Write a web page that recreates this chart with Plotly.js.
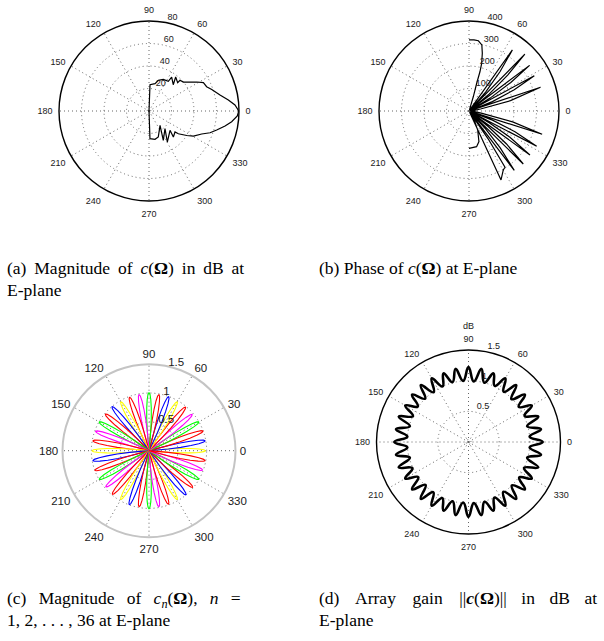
<!DOCTYPE html>
<html>
<head>
<meta charset="utf-8">
<script src="https://cdn.plot.ly/plotly-3.0.1.min.js"></script>
<style>
  html, body { margin: 0; padding: 0; background: #fff; }
  #chart { width: 604px; height: 641px; }
</style>
</head>
<body>
<div id="chart"></div>
<script>
// ---- angular ticks shared by all four polar panels ----
const angleTicks  = [0, 30, 60, 90, 120, 150, 180, 210, 240, 270, 300, 330];
const angleLabels = ['0', '30', '60', '90', '120', '150', '180', '210', '240', '270', '300', '330'];

// ---- (a) magnitude of c(Omega) in dB, E-plane ----
const magTheta = [90, 87.8, 77.6, 73, 65.7, 57, 56.3, 47.3, 51.9, 44.6, 44.7, 40.2, 36.4, 31.3, 27.5,
                  22.9, 19, 12.7, 7.9, 4, 0, -3.2, -7.4, -11.2, -15.7, -19.6, -23.6, -29.4, -33,
                  -37.8, -38.9, -46.9, -42.6, -59.4, -47.9, -64, -52.4, -70.3, -78, -88, -90];
const magR     = [0, 23.4, 24.9, 28.5, 30.9, 31.5, 36.3, 31.8, 38.4, 35.8, 38.8, 39.9, 43.4, 49.6, 54.5,
                  55.6, 59, 64.7, 71.2, 76.6, 79.8, 78.6, 74.1, 68.9, 62.5, 57.6, 51.1, 45.3, 40,
                  33, 29.7, 31.7, 25.4, 32, 21.2, 29, 16.1, 24.5, 25.7, 24.6, 0];
const magRings  = [1.6, 20, 40, 60, 80];
const magTicks  = [20, 40, 60, 80];

// ---- (b) phase of c(Omega), E-plane (degrees, wrapped) ----
const phaseTheta = [-90, -78, -72, -65.5, -59.4, -62,
                    -65.1, -59.8, -57.4, -55.5, -53.2,
                    -52.7, -49.8, -47.3, -44.6,
                    -44.3, -41.3, -38.8, -36.0,
                    -35.8, -32.7, -30.2, -27.7,
                    -27.5, -24.2, -21.2, -17.8,
                    -17.6, -14, -10, -5, 0, 5, 10, 14,
                    18.4, 18.6, 21.8, 25.1, 28.4, 28.6, 31.4, 34.3, 37, 37.2, 40, 42.9, 45.5,
                    45.7, 48.7, 51.7, 54.6, 54.8, 63, 71, 73.2, 74.5, 74.4, 75.1, 77, 79, 82.4, 86, 90];
const phaseR     = [166, 162, 143, 93, 46, 6,
                    338, 303, 297, 150, 5,
                    332, 215, 110, 5,
                    337, 222, 108, 5,
                    334, 216, 104, 5,
                    339, 224, 112, 5,
                    341, 200, 55, 20, 4, 20, 52, 190,
                    335, 5, 112, 222, 330, 5, 110, 225, 337, 5, 118, 236, 354,
                    5, 112, 222, 333, 5, 6, 12, 66, 128, 181, 219, 263, 299, 315, 317, 316];
const phaseRings = [7, 100, 200, 300, 400];
const phaseTicks = [100, 200, 300, 400];

// ---- (c) magnitude of c_n(Omega), n = 1..36 ----
const lobeDir  = [0, 10, 20, 30, 40, 50, 60, 70, 80, 90, 100, 110, 120, 130, 140, 150, 160, 170,
                  180, 190, 200, 210, 220, 230, 240, 250, 260, 270, 280, 290, 300, 310, 320, 330, 340, 350];
const lobePeak = [0.98, 0.99, 1.00, 1.00, 0.98, 0.99, 0.98, 1.00, 0.99, 1.01, 0.99, 0.99, 0.98, 1.00, 0.99, 1.00, 0.99, 0.99,
                  0.99, 0.99, 1.00, 1.00, 0.98, 0.99, 0.98, 1.00, 0.99, 1.01, 0.99, 0.99, 0.98, 1.00, 0.99, 1.00, 0.99, 0.99];
// beam profile: gain relative to peak versus angle off the beam direction (deg)
const petalOffset = [-6.4, -6, -5, -4, -3, -2, -1, 0, 1, 2, 3, 4, 5, 6, 6.4];
const petalGain   = [0, 0.10, 0.34, 0.56, 0.74, 0.88, 0.97, 1, 0.97, 0.88, 0.74, 0.56, 0.34, 0.10, 0];
const lobeColors  = ['#ffff00', '#0000ff', '#ff0000', '#00ff00', '#ff00ff', '#ff0000'];
const elemRings = [0.5, 1, 1.5];
const elemTicks = [0.5, 1, 1.5];

// ---- (d) array gain ||c(Omega)|| in dB ----
const gainTheta = [0, 5, 10, 15, 20, 25, 30, 35, 40, 45, 50, 55, 60, 65, 70, 75, 80, 85,
                   90, 95, 100, 105, 110, 115, 120, 125, 130, 135, 140, 145, 150, 155, 160, 165, 170, 175,
                   180, 185, 190, 195, 200, 205, 210, 215, 220, 225, 230, 235, 240, 245, 250, 255, 260, 265,
                   270, 275, 280, 285, 290, 295, 300, 305, 310, 315, 320, 325, 330, 335, 340, 345, 350, 355, 360];
const gainR     = [1.21, 1.00, 1.20, 0.99, 1.21, 1.01, 1.19, 1.00, 1.20, 0.99, 1.21, 1.00, 1.20, 1.01, 1.19, 1.00, 1.21, 0.99,
                   1.22, 1.00, 1.21, 1.01, 1.19, 1.00, 1.20, 0.99, 1.21, 1.00, 1.20, 1.01, 1.19, 1.00, 1.21, 0.99, 1.20, 1.00,
                   1.21, 1.00, 1.20, 0.99, 1.21, 1.01, 1.19, 1.00, 1.20, 0.99, 1.21, 1.00, 1.20, 1.01, 1.19, 1.00, 1.21, 0.99,
                   1.22, 1.00, 1.21, 1.01, 1.19, 1.00, 1.20, 0.99, 1.21, 1.00, 1.20, 1.01, 1.19, 1.00, 1.21, 0.99, 1.20, 1.00, 1.21];
const gainRings = [0.04, 0.5, 1, 1.5];
const gainTicks = [0.5, 1, 1.5];

// ---- page geometry (pixels) ----
const W = 604, H = 641;
function domainFor(cx, cy, R) {
  return { x: [(cx - R) / W, (cx + R) / W], y: [(H - cy - R) / H, (H - cy + R) / H] };
}

const sansFont = 'Liberation Sans, Arial, Helvetica, sans-serif';
const serifFont = 'Liberation Serif, Times New Roman, serif';
const RADIAL_ANGLE = 80;
const GRID = '#666666';

// polar frame: rim, spokes, dotted rings and angle labels
function polarFrame(cx, cy, R, rmax, rings, opt) {
  return {
    domain: domainFor(cx, cy, R),
    bgcolor: '#ffffff',
    angularaxis: {
      tickmode: 'array', tickvals: angleTicks, ticktext: angleLabels,
      direction: 'counterclockwise', rotation: 0,
      showline: true, linecolor: opt.rim, linewidth: opt.rimWidth,
      showgrid: true, gridcolor: GRID, griddash: '1px,3px', gridwidth: 1,
      ticks: 'outside', ticklen: opt.labelGap, tickcolor: 'rgba(0,0,0,0)',
      tickfont: { family: sansFont, size: opt.fontSize, color: '#1a1a1a' }
    },
    radialaxis: {
      range: [0, rmax], tickmode: 'array', tickvals: rings,
      angle: RADIAL_ANGLE, showline: false, ticks: '', showticklabels: false,
      showgrid: true, gridcolor: GRID, griddash: '1px,3px', gridwidth: 1
    }
  };
}
// radial value labels, drawn by a transparent companion polar nudged up-right
function polarLabels(cx, cy, R, rmax, ticks, opt) {
  return {
    domain: domainFor(cx + opt.dx, cy - opt.dy, R),
    bgcolor: 'rgba(0,0,0,0)',
    angularaxis: { visible: false, rotation: 0, direction: 'counterclockwise' },
    radialaxis: {
      range: [0, rmax], tickmode: 'array', tickvals: ticks,
      angle: RADIAL_ANGLE, tickangle: RADIAL_ANGLE, showline: false, ticks: '',
      showgrid: false,
      tickfont: { family: sansFont, size: opt.fontSize, color: '#1a1a1a' }
    }
  };
}

const traces = [];
traces.push({
  type: 'scatterpolar', subplot: 'polar', mode: 'lines',
  theta: magTheta, r: magR,
  line: { color: '#000', width: 1.2 }, hoverinfo: 'skip'
});
traces.push({
  type: 'scatterpolar', subplot: 'polar2', mode: 'lines',
  theta: phaseTheta, r: phaseR,
  line: { color: '#000', width: 1.2 }, hoverinfo: 'skip'
});
for (let n = 0; n < lobeDir.length; n++) {
  traces.push({
    type: 'scatterpolar', subplot: 'polar3', mode: 'lines',
    theta: petalOffset.map(o => lobeDir[n] + o),
    r: petalGain.map(g => g * lobePeak[n]),
    line: { color: lobeColors[n % lobeColors.length], width: 1.1 }, hoverinfo: 'skip'
  });
}
traces.push({
  type: 'scatterpolar', subplot: 'polar4', mode: 'lines',
  theta: gainTheta, r: gainR,
  line: { color: '#000', width: 2.6, shape: 'spline', smoothing: 1.3 }, hoverinfo: 'skip'
});
// empty traces so the label-only polars are created
['polar5', 'polar6', 'polar7', 'polar8'].forEach(id => {
  traces.push({ type: 'scatterpolar', subplot: id, mode: 'lines', r: [], theta: [], hoverinfo: 'skip' });
});

function caption(text, xpx, ytop) {
  return {
    xref: 'paper', yref: 'paper', x: xpx / W, y: 1 - ytop / H,
    xanchor: 'left', yanchor: 'top', showarrow: false, align: 'left',
    text: text, font: { family: serifFont, size: 17.5, color: '#000' }
  };
}
const SP = '\u00a0';   // word gaps for the justified caption lines
const TH = '\u2009';
const HS = '\u200a';

const small = { rim: '#000', rimWidth: 1.4, fontSize: 9, labelGap: 4 };
const large = { rim: '#c4c4c4', rimWidth: 2, fontSize: 11.5, labelGap: 1 };
const nudge = { fontSize: 9, dx: -2, dy: 8 };
const nudgeC = { fontSize: 11.5, dx: -2, dy: 6 };

const layout = {
  width: W, height: H, autosize: false,
  margin: { l: 0, r: 0, t: 0, b: 0, pad: 0 },
  paper_bgcolor: '#ffffff', showlegend: false,
  polar:  polarFrame(149, 111, 90, 80, magRings, small),
  polar2: polarFrame(469, 111, 90, 400, phaseRings, small),
  polar3: polarFrame(149, 450.7, 86.5, 1.5, elemRings, large),
  polar4: polarFrame(468.5, 442, 92, 1.5, gainRings, small),
  polar5: polarLabels(149, 111, 90, 80, magTicks, nudge),
  polar6: polarLabels(469, 111, 90, 400, phaseTicks, nudge),
  polar7: polarLabels(149, 450.7, 86.5, 1.5, elemTicks, nudgeC),
  polar8: polarLabels(468.5, 442, 92, 1.5, gainTicks, nudge),
  annotations: [
    { xref: 'paper', yref: 'paper', x: 468.5 / W, y: 1 - 326 / H, xanchor: 'center', yanchor: 'middle',
      showarrow: false, text: 'dB', font: { family: sansFont, size: 9, color: '#1a1a1a' } },
    caption('(a)' + TH + ' Magnitude' + TH + ' of' + TH + ' <i>c</i>(<b>Ω</b>)' + TH + ' in' + TH + ' dB' + TH + ' at', 5, 256),
    caption('E-plane', 5, 278),
    caption('(b) Phase of <i>c</i>(<b>Ω</b>) at E-plane', 317, 256),
    caption('(c)' + SP + TH + ' Magnitude' + SP + TH + ' of' + SP + TH + ' <i>c</i><sub><i>n</i></sub>(<b>Ω</b>),' + SP + TH + ' <i>n</i>' + SP + TH + ' =', 5, 586),
    caption('1, 2, . . . , 36 at E-plane', 5, 608),
    caption('(d)' + SP + SP + TH + ' Array' + SP + SP + TH + ' gain' + SP + SP + TH + ' ||<b><i>c</i></b>(<b>Ω</b>)||' +
            SP + SP + HS + ' in' + SP + SP + HS + ' dB' + SP + SP + HS + ' at', 317, 586),
    caption('E-plane', 317, 608)
  ]
};

Plotly.newPlot('chart', traces, layout, { staticPlot: true, displayModeBar: false });
</script>
</body>
</html>
